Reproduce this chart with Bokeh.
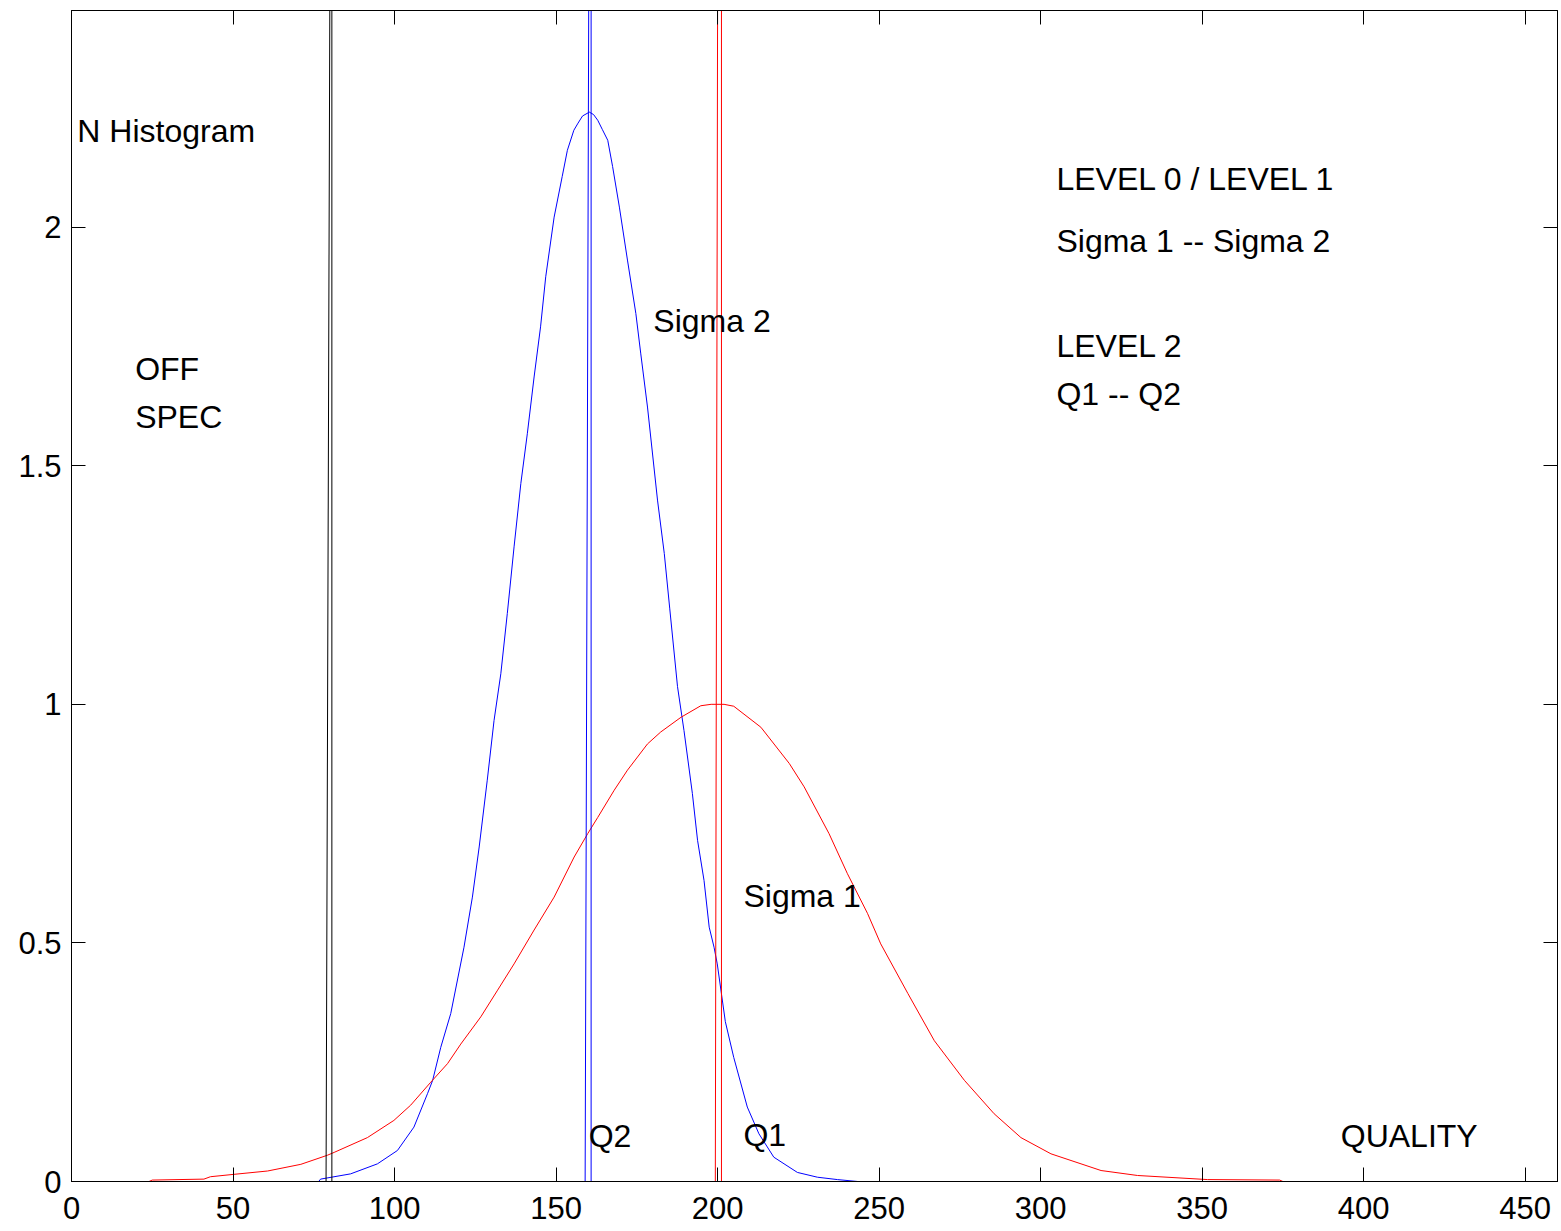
from bokeh.plotting import figure
from bokeh.models import (Range1d, LinearAxis, FixedTicker, Label, ColumnDataSource,
                          CustomLabelingPolicy)
from bokeh.embed import file_html
from bokeh.resources import INLINE

# ---- data ----
red_x = [0, 24, 25, 41, 43, 50.3, 60.7, 71, 79.2, 81.3, 91.6, 99.8, 105, 111.2, 116.4,
         120.5, 126.7, 131.9, 137, 143.2, 149.4, 155.6, 159.8, 162.9, 168, 172.1, 178.3,
         182.4, 188.7, 194.8, 198, 202, 205, 213.4, 222.2, 226.8, 234.5, 240.2, 246.4,
         250.5, 258.9, 267.1, 276.4, 285.6, 293.9, 303.2, 318.7, 330, 351.7, 374, 375, 460]
red_y = [0, 0, 0.003, 0.005, 0.010, 0.015, 0.022, 0.036, 0.055, 0.061, 0.092, 0.128, 0.160,
         0.208, 0.247, 0.288, 0.345, 0.401, 0.456, 0.527, 0.596, 0.680, 0.729, 0.763, 0.820,
         0.862, 0.917, 0.942, 0.973, 0.997, 1.0, 1.0, 0.996, 0.952, 0.876, 0.827, 0.729,
         0.645, 0.562, 0.498, 0.394, 0.295, 0.212, 0.142, 0.092, 0.058, 0.023, 0.0126,
         0.004, 0.003, 0, 0]

blue_x = [0, 76.5, 77.1, 86.4, 94.7, 100.9, 106, 110.2, 111.8, 114.3, 117.4, 121.5, 124.1,
          126.2, 128.7, 130.8, 132.9, 134.9, 137, 139.1, 141.1, 143.2, 145.2, 146.8, 149.4,
          151.9, 153.5, 155.5, 156.8, 158.2, 160.3, 161.6, 162.9, 164.3, 166, 167.5, 169.6,
          172.1, 174.7, 176.2, 178.3, 181.4, 183.5, 185.2, 187.6, 189.6, 192.2, 193.8, 195.8,
          197.4, 198.9, 199.9, 202.4, 205, 209.2, 212.8, 217.4, 224.7, 230.9, 237.1, 243.4, 460]
blue_y = [0, 0, 0.005, 0.016, 0.037, 0.065, 0.114, 0.184, 0.212, 0.281, 0.352, 0.491, 0.596,
          0.701, 0.841, 0.966, 1.064, 1.190, 1.330, 1.463, 1.567, 1.686, 1.791, 1.896, 2.021,
          2.106, 2.161, 2.203, 2.218, 2.233, 2.241, 2.236, 2.224, 2.205, 2.182, 2.127, 2.042,
          1.931, 1.819, 1.736, 1.623, 1.428, 1.316, 1.200, 1.037, 0.945, 0.813, 0.715, 0.631,
          0.533, 0.491, 0.456, 0.335, 0.260, 0.156, 0.100, 0.051, 0.019, 0.009, 0.004, 0, 0]

# threshold lines: x at the bottom and x at the top of the frame
thr_x_bottom = [78.8, 80.6, 159.0, 160.85, 199.3, 201.2]
thr_x_top = [79.96, 80.6, 160.1, 160.85, 200.0, 201.2]
thr_color = ["black", "black", "blue", "blue", "red", "red"]

x_ticks = [0, 50, 100, 150, 200, 250, 300, 350, 400, 450]
y_ticks = [0, 0.5, 1, 1.5, 2]
y_tick_labels = ["0", "0.5", "1", "1.5", "2"]

texts = ["N Histogram", "OFF", "SPEC", "Sigma 2", "LEVEL 0 / LEVEL 1",
         "Sigma 1 -- Sigma 2", "LEVEL 2", "Q1 -- Q2", "Sigma 1", "Q2", "Q1", "QUALITY"]
text_x = [1.8, 19.7, 19.7, 180.1, 304.9, 304.9, 304.9, 304.9, 208.0, 160.1, 208.0, 392.9]
text_y = [2.201, 1.703, 1.603, 1.803, 2.100, 1.970, 1.751, 1.650, 0.598, 0.095, 0.097, 0.095]

X_MAX = 460
Y_MAX = 2.454
FONT = "Liberation Sans"
TEXT_FS = "32px"
TICK_FS = "31px"

p = figure(width=1561, height=1231, x_range=Range1d(0, X_MAX), y_range=Range1d(0, Y_MAX),
           output_backend="svg", toolbar_location=None,
           x_axis_location=None, y_axis_location=None,
           min_border_left=71, min_border_right=4, min_border_top=10, min_border_bottom=50)
p.grid.visible = False
p.outline_line_color = "black"
p.outline_line_width = 1
p.background_fill_color = "white"
p.border_fill_color = "white"

no_labels = CustomLabelingPolicy(code="return new Set()")


def make_axis(ticks, show, overrides=None, standoff=10):
    ax = LinearAxis(ticker=FixedTicker(ticks=ticks), major_tick_in=14, major_tick_out=0,
                    minor_tick_line_color=None, axis_line_color="black",
                    major_tick_line_color="black",
                    major_label_text_font=FONT, major_label_text_color="black")
    if show:
        ax.major_label_text_font_size = TICK_FS
        ax.major_label_standoff = standoff
        if overrides:
            ax.major_label_overrides = overrides
    else:
        ax.major_label_policy = no_labels
        ax.major_label_text_font_size = "0px"
        ax.major_label_standoff = 0
    return ax


p.add_layout(make_axis(x_ticks, True, standoff=15), "below")
p.add_layout(make_axis(y_ticks, True, {t: l for t, l in zip(y_ticks, y_tick_labels)}), "left")
p.add_layout(make_axis(x_ticks, False), "above")
p.add_layout(make_axis(y_ticks, False), "right")

p.line(blue_x, blue_y, line_color="blue", line_width=1)
p.line(red_x, red_y, line_color="red", line_width=1)

src = ColumnDataSource(dict(x0=thr_x_bottom, x1=thr_x_top, y0=[0] * len(thr_x_bottom),
                            y1=[Y_MAX] * len(thr_x_bottom), c=thr_color))
p.segment(x0="x0", y0="y0", x1="x1", y1="y1", line_color="c", line_width=1, source=src)

for t, x, y in zip(texts, text_x, text_y):
    p.add_layout(Label(x=x, y=y, text=t, text_font=FONT, text_font_size=TEXT_FS,
                       text_color="black", text_baseline="alphabetic", text_align="left"))

open("out.html", "w").write(file_html(p, INLINE))
